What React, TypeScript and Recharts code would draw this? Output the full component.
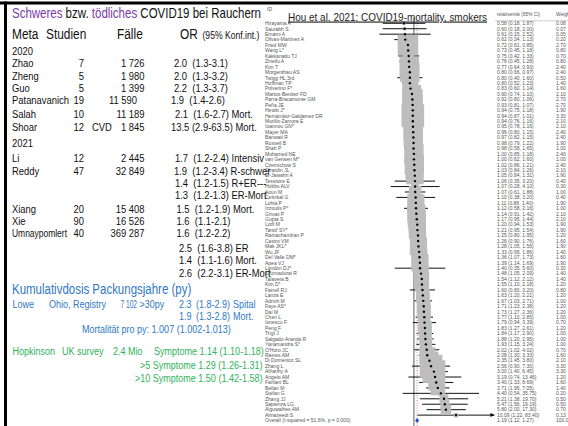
import React from 'react';
import { ComposedChart, Scatter, XAxis, YAxis, ErrorBar, ReferenceLine } from 'recharts';

// ---------- Forest plot data (Hou et al. 2021) ----------
const studyNames = [
  'Hirayama A', 'Saurabh S', 'Emami A', 'Olivas-Martinez A', 'Fried MW', 'Wang L*', 'Kakkanattu TJ', 'Zinellu A',
  'Kim T', 'Morgenthau AS', 'Twigg HL 3rd', 'Hoffman TP', 'Polverino F*', 'Martos-Benitez FD', 'Parra-Bracamonte GM',
  'Peña JE', 'Hewitt J*', 'Hernández-Galdamez DR', 'Murillo-Zamora E', 'Ioannou GN*', 'Mayer MA', 'Banwait R',
  'Russell B', 'Shah P', 'Mohamed NE', 'van Gerwen M*', 'Czernichow S', 'Girardin JL', 'El-Jawahri A', 'Tessitore E',
  'Hobbs ALV', 'Aoun M', 'Cetinkal G', 'Lohia P', 'Izzoulis P*', 'Grivas P', 'Gupta S', 'Lotfi M', 'Tartof SY*',
  'Ramachandran P', 'Castro VM', 'Mak JKL*', 'Wu JF', 'Del Valle DM*', 'Apea VJ', 'London DJ*', 'Chinnadurai R',
  'Talavera B', 'Kim D*', 'Farrell RJ', 'Lanza E', 'Adrish M', 'Faye AS*', 'Dai M', 'Chen L', 'Ionescu F', 'Peng F',
  'Trigt J', 'Salgado-Aranda R', 'Yanamandra S*', "O'Horo JC", 'Raines AM', 'Di Domenico SL', 'Zhang L',
  'Alharthy A', 'Angelo AM', 'Fanlani BL', 'Bellan M', 'Stefan G', 'Zhang JJ', 'Sapienza LG', 'Alguwaihes AM',
  'Almazeedi S',
];
const rrValues = [
  0.58, 0.60, 0.61, 0.62, 0.72, 0.73, 0.75, 0.76, 0.77, 0.80, 0.80, 0.80, 0.83, 0.90, 0.92, 0.93,
  0.94, 0.94, 0.94, 0.95, 0.96, 0.97, 0.98, 0.98, 1.00, 1.00, 1.02, 1.03, 1.05, 1.06, 1.07, 1.07, 1.10, 1.11,
  1.12, 1.14, 1.17, 1.20, 1.21, 1.25, 1.26, 1.28, 1.33, 1.36, 1.39, 1.40, 1.48, 1.54, 1.55, 1.60, 1.63, 1.67, 1.71,
  1.73, 1.77, 1.79, 1.83, 1.84, 1.88, 1.93, 2.02, 2.08, 2.35, 2.56, 3.00, 3.19, 3.40, 3.71, 4.40, 5.21, 5.47, 5.80, 10.09,
];
const ciLow = [
  0.18, 0.18, 0.15, 0.34, 0.61, 0.45, 0.42, 0.45, 0.64, 0.66, 0.40, 0.52, 0.60, 0.74, 0.80, 0.81,
  0.75, 0.87, 0.76, 0.78, 0.80, 0.82, 0.79, 0.58, 0.85, 0.62, 0.86, 0.84, 0.84, 0.35, 0.28, 0.61, 0.38, 0.88,
  0.58, 0.91, 0.95, 0.94, 0.95, 0.80, 0.90, 1.05, 0.95, 1.07, 1.14, 0.35, 1.05, 1.12, 1.10, 0.80, 1.20, 1.03, 1.23,
  1.27, 1.10, 0.94, 1.27, 1.17, 1.20, 1.15, 1.02, 1.30, 1.45, 0.90, 1.40, 0.74, 1.33, 1.95, 0.54, 1.38, 1.56, 2.00, 1.22,
];
const ciHigh = [
  1.87, 2.00, 2.52, 1.13, 0.85, 1.18, 1.33, 1.28, 0.93, 0.97, 1.60, 1.23, 1.14, 1.10, 1.06, 1.07,
  1.18, 1.01, 1.16, 1.16, 1.15, 1.15, 1.22, 1.65, 1.18, 1.60, 1.21, 1.26, 1.31, 3.20, 4.10, 1.88, 3.20, 1.40,
  2.16, 1.42, 1.44, 1.53, 1.54, 1.95, 1.76, 1.56, 1.86, 1.73, 1.69, 5.60, 2.09, 2.12, 2.18, 3.20, 2.21, 2.71, 2.38,
  2.36, 2.85, 3.39, 2.61, 2.90, 2.95, 3.24, 4.02, 3.33, 3.80, 7.30, 6.45, 13.46, 8.69, 7.05, 35.75, 19.70, 19.19, 17.30, 83.40,
];
const weights = [
  0.08, 0.07, 0.05, 0.20, 2.70, 0.80, 0.70, 0.80, 2.40, 2.40, 0.50, 1.40, 1.60, 2.10, 2.70, 2.70,
  1.90, 3.30, 2.10, 2.10, 2.40, 2.40, 1.90, 1.00, 2.40, 1.00, 2.40, 2.10, 1.90, 0.40, 0.30, 1.00, 0.40, 1.90,
  1.00, 2.10, 2.10, 1.90, 1.90, 1.20, 1.60, 1.90, 1.40, 1.60, 1.90, 0.30, 1.40, 1.40, 1.20, 0.80, 1.20, 1.00, 1.20,
  1.20, 1.00, 0.70, 1.20, 1.00, 1.00, 1.00, 0.70, 1.60, 2.10, 3.30, 3.30, 1.20, 1.60, 1.40, 0.20, 0.50, 0.50, 0.70, 0.13,
];
const overallLabel = 'Overall  (I-squared = 51.6%, p = 0.000)';
const overallRR = 1.19;
const overallLow = 1.12;
const overallHigh = 1.27;

// ---------- Left panel table (meta-analyses) ----------
const metaNames = ['Zhao', 'Zheng', 'Guo', 'Patanavanich', 'Salah', 'Shoar', 'Li', 'Reddy', '', '', 'Xiang', 'Xie', 'Umnaypomlert', '', '', ''];
const metaStudies = ['7', '5', '5', '19', '10', '12', '12', '47', '', '', '20', '90', '40', '', '', ''];
const metaCases = ['1 726', '1 980', '1 399', '11 590', '11 189', '1 845', '2 445', '32 849', '', '', '15 408', '16 526', '369 287', '', '', ''];
const metaOR = [
  '2.0  (1.3-3.1)', '2.0  (1.3-3.2)', '2.2  (1.3-3.7)', '1.9  (1.4-2.6)', '2.1  (1.6-2.7) Mort.', '13.5 (2.9-63.5) Mort.',
  '1.7  (1.2-2.4) Intensiv', '1.9  (1.2-3.4) R-schwer', '1.4  (1.2-1.5) R+ER---', '1.3  (1.2-1.3) ER-Mort',
  '1.5  (1.2-1.9) Mort.', '1.6  (1.1-2.1)', '1.6  (1.2-2.2)', '2.5  (1.6-3.8) ER', '1.4  (1.1-1.6) Mort.', '2.6  (2.2-3.1) ER-Mort',
];
const metaYears = ['2020', '2021'];

// layout (style only)
const metaBaselines = [67, 79.5, 91.7, 104.3, 117.5, 131, 161.5, 174.8, 186.8, 198.6, 212.6, 225, 237.4, 251.5, 263.6, 276.6];
const metaORx = [174, 174, 174, 171, 175, 171, 175, 174, 175, 175, 176.5, 176.5, 176.5, 179, 179, 179];
const metaNameLen: Record<number, number> = { 12: 55 };
const yearBaselines = [55, 147];

const PURPLE = '#7a3aa8';
const BLUE = '#2f78c4';
const GREEN = '#2fb25a';
const SANS = '"Liberation Sans", Arial, sans-serif';
const NARROW_SCALE = 0.82;

const fmt = (v: number) => v.toFixed(2);
const studyRows = studyNames.map((name, i) => ({
  row: i,
  name,
  rr: rrValues[i],
  err: [rrValues[i] - ciLow[i], ciHigh[i] - rrValues[i]],
  w: weights[i],
}));
const axisLabels = [...studyNames, overallLabel];
const ciLabels = [
  ...rrValues.map((v, i) => `${fmt(v)} (${fmt(ciLow[i])}, ${fmt(ciHigh[i])})`),
  `${fmt(overallRR)} (${fmt(overallLow)}, ${fmt(overallHigh)})`,
];
const weightLabels = [...weights.map((w) => fmt(w)), '100.00'];
const rowTicks = axisLabels.map((_, i) => i);
const overallRows = [{ row: studyNames.length, rr: overallRR }];
const arrowRows = studyRows.filter((r) => ciHigh[r.row] > 50).map((r) => ({ row: r.row, rr: ciHigh[r.row] }));

const BOX_SCALE = 12.5;

const NameTick = (props: any) => (
  <text x={265} y={props.y} dy={1.8} fontSize={5} fill="#555" fontFamily={SANS}>
    {axisLabels[props.payload.value]}
  </text>
);
const CiTick = (props: any) => (
  <g>
    <text x={497} y={props.y} dy={1.8} fontSize={5} fill="#555" fontFamily={SANS}>
      {ciLabels[props.payload.value]}
    </text>
    <text x={556} y={props.y} dy={1.8} fontSize={5} fill="#555" fontFamily={SANS}>
      {weightLabels[props.payload.value]}
    </text>
  </g>
);
const BoxShape = (p: any) => {
  const s = BOX_SCALE * Math.sqrt(p.payload.w);
  return <rect x={p.cx - s / 2} y={p.cy - s / 2} width={s} height={s} fill="#bdbdbd" />;
};
const PointShape = (p: any) => <circle cx={p.cx} cy={p.cy} r={1.2} fill="#000" />;
const ArrowShape = (p: any) => (
  <path d={`M${p.cx - 4},${p.cy - 2} L${p.cx},${p.cy} L${p.cx - 4},${p.cy + 2} Z`} fill="#000" />
);
const DiamondShape = (p: any) => (
  <path d={`M${p.cx - 2},${p.cy} L${p.cx},${p.cy - 2.5} L${p.cx + 2},${p.cy} L${p.cx},${p.cy + 2.5} Z`} fill="#2a4cc8" />
);
const EmptyShape = () => <g />;

// narrow (Arial Narrow–like) text: Liberation Sans squeezed horizontally
const NText = ({ x, y, size, anchor, fill, len, children }: any) => (
  <text
    transform={`translate(${x} ${y}) scale(${NARROW_SCALE} 1)`}
    fontSize={size}
    textAnchor={anchor || 'start'}
    fontFamily={SANS}
    fill={fill || '#111'}
    style={{ whiteSpace: 'pre' }}
    textLength={len ? len / NARROW_SCALE : undefined}
    lengthAdjust={len ? 'spacingAndGlyphs' : undefined}
  >
    {children}
  </text>
);

const LeftPanel = () => (
  <svg width={568} height={426} style={{ position: 'absolute', left: 0, top: 0 }}>
    <rect x={0} y={1.5} width={568} height={3} fill="#000" />
    <rect x={4} y={1.5} width={3} height={425} fill="#000" />
    <text x={267} y={11} fontSize={5} fill="#555" fontFamily={SANS}>ID</text>

    <text x={12} y={18} fontSize={14.5} fontFamily={SANS} fill="#111" textLength={249} lengthAdjust="spacingAndGlyphs">
      <tspan fill={PURPLE}>Schweres</tspan>{' bzw. '}<tspan fill={PURPLE}>tödliches</tspan>{' COVID19 bei Rauchern'}
    </text>

    <NText x={12} y={39.3} size={14.5}>Meta</NText>
    <NText x={46} y={39.3} size={14.5}>Studien</NText>
    <NText x={117} y={39.3} size={14.5}>Fälle</NText>
    <NText x={180} y={39.3} size={14.5}>OR</NText>
    <NText x={202.5} y={39.3} size={10.5}>(95% Konf.int.)</NText>
    {metaYears.map((yr, i) => (
      <NText key={yr} x={12} y={yearBaselines[i]} size={11.5}>{yr}</NText>
    ))}
    {metaNames.map((n, i) => (
      <g key={i}>
        {n && <NText x={12} y={metaBaselines[i]} size={11.5} len={metaNameLen[i]}>{n}</NText>}
        {metaStudies[i] && <NText x={84} y={metaBaselines[i]} size={11.5} anchor="end">{metaStudies[i]}</NText>}
        {metaCases[i] && (
          <NText x={i === 3 ? 137 : 144.5} y={metaBaselines[i]} size={11.5} anchor="end">{metaCases[i]}</NText>
        )}
        <NText x={metaORx[i]} y={metaBaselines[i]} size={11.5}>{metaOR[i]}</NText>
      </g>
    ))}
    <NText x={92} y={131} size={11.5}>CVD</NText>

    <NText x={12} y={294} size={14} fill={BLUE}>Kumulativdosis Packungsjahre (py)</NText>
    <NText x={12.5} y={307.5} size={11} fill={BLUE}>Lowe</NText>
    <NText x={49} y={307.5} size={11} fill={BLUE}>Ohio, Registry</NText>
    <NText x={120.5} y={307.5} size={11} fill={BLUE} len={16.5}>7 102</NText>
    <NText x={139.5} y={307.5} size={11} fill={BLUE}>&gt;30py</NText>
    <NText x={179} y={307.5} size={11} fill={BLUE}>2.3</NText>
    <NText x={196} y={307.5} size={11} fill={BLUE}>(1.8-2.9)</NText>
    <NText x={233} y={307.5} size={11} fill={BLUE}>Spital</NText>
    <NText x={179} y={319.5} size={11} fill={BLUE}>1.9</NText>
    <NText x={196} y={319.5} size={11} fill={BLUE}>(1.3-2.8)</NText>
    <NText x={233} y={319.5} size={11} fill={BLUE}>Mort.</NText>
    <NText x={82} y={333} size={11} fill={BLUE}>Mortalität pro py: 1.007 (1.002-1.013)</NText>

    <NText x={12.5} y={355} size={11} fill={GREEN}>Hopkinson</NText>
    <NText x={62} y={355} size={11} fill={GREEN}>UK survey</NText>
    <NText x={113} y={355} size={11} fill={GREEN}>2.4 Mio</NText>
    <NText x={154} y={355} size={11} fill={GREEN}>Symptome 1.14 (1.10-1.18)</NText>
    <NText x={140} y={368.5} size={11} fill={GREEN}>&gt;5 Symptome 1.29 (1.26-1.31)</NText>
    <NText x={135} y={382} size={11} fill={GREEN}>&gt;10 Symptome 1.50 (1.42-1.58)</NText>

    <text x={288} y={20.5} fontSize={11.5} fontFamily={SANS} fill="#222" textLength={199} lengthAdjust="spacingAndGlyphs" textDecoration="underline">
      Hou et al. 2021: COVID19-mortality, smokers
    </text>
    <text x={497} y={15.5} fontSize={4.8} fill="#555" fontFamily={SANS}>relativerisk (95% CI)</text>
    <text x={556} y={15.5} fontSize={4.8} fill="#555" fontFamily={SANS}>Weight</text>
    <line x1={495} x2={568} y1={20.8} y2={20.8} stroke="#999" strokeWidth={0.5} />
  </svg>
);

export default function App() {
  return (
    <div style={{ position: 'absolute', left: 0, top: 0, width: 568, height: 426, overflow: 'hidden', background: '#fff' }}>
      <ComposedChart width={568} height={426} margin={{ top: 17.85, right: 0, bottom: 0, left: 265 }}>
        <XAxis type="number" dataKey="rr" scale="log" domain={[0.15, 85]} allowDataOverflow hide />
        <YAxis
          yAxisId="names"
          type="number"
          dataKey="row"
          domain={[-1, 74]}
          reversed
          ticks={rowTicks}
          interval={0}
          width={114.4}
          axisLine={false}
          tickLine={false}
          tick={NameTick}
          allowDataOverflow
        />
        <YAxis
          yAxisId="ci"
          orientation="right"
          type="number"
          dataKey="row"
          domain={[-1, 74]}
          reversed
          ticks={rowTicks}
          interval={0}
          width={73.2}
          axisLine={false}
          tickLine={false}
          tick={CiTick}
          allowDataOverflow
        />
        <ReferenceLine yAxisId="names" x={1} stroke="#333" strokeWidth={0.8} />
        <ReferenceLine yAxisId="names" x={overallRR} stroke="#c86060" strokeWidth={0.8} strokeDasharray="1 1.5" />
        <Scatter yAxisId="names" data={studyRows} shape={BoxShape} isAnimationActive={false} />
        <Scatter yAxisId="names" data={studyRows} shape={PointShape} isAnimationActive={false}>
          <ErrorBar dataKey="err" direction="x" width={0} stroke="#111" strokeWidth={1} />
        </Scatter>
        <Scatter yAxisId="names" data={arrowRows} shape={ArrowShape} isAnimationActive={false} />
        <Scatter yAxisId="names" data={overallRows} shape={DiamondShape} isAnimationActive={false} />
        <Scatter yAxisId="ci" data={studyRows} shape={EmptyShape} isAnimationActive={false} />
      </ComposedChart>
      <LeftPanel />
    </div>
  );
}
